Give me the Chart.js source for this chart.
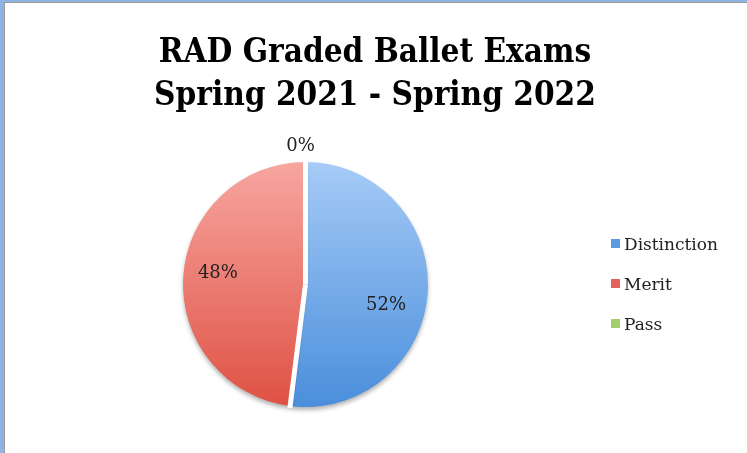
<!DOCTYPE html>
<html>
<head>
<meta charset="utf-8">
<script src="https://cdn.jsdelivr.net/npm/chart.js@4"></script>
<style>
  html, body { margin: 0; padding: 0; background: #fff; }
  #wrap { position: relative; width: 747px; height: 453px; }
</style>
</head>
<body>
<div id="wrap"><canvas id="myChart" width="747" height="453"></canvas></div>
<script>
// chart data
const categories = ['Distinction', 'Merit', 'Pass'];
const percents = [52, 48, 0];
const titleLines = ['RAD Graded Ballet Exams', 'Spring 2021 - Spring 2022'];

// top/bottom colours for the shaded slices, and legend squares
const topColors = ['#a6cbf7', '#f7a6a0', '#c2e08e'];
const bottomColors = ['#4a8edb', '#df5144', '#8fbf4f'];
const keyColors = ['#5c9be2', '#e4625a', '#a5cf6a'];
// small label nudges (x, y) to sit where the original put them
const labelNudge = [[-5, 15], [-2, -6], [-5, 0]];

const serif = '"DejaVu Serif", serif';

function shade(context) {
  const chart = context.chart;
  const area = chart.chartArea;
  if (!area) return keyColors[context.dataIndex];
  const g = chart.ctx.createLinearGradient(0, area.top, 0, area.bottom);
  g.addColorStop(0, topColors[context.dataIndex]);
  g.addColorStop(1, bottomColors[context.dataIndex]);
  return g;
}

// frame + title + legend + percent labels
const decor = {
  id: 'decor',
  beforeDraw(chart) {
    const ctx = chart.ctx;
    ctx.save();
    ctx.fillStyle = '#fff';
    ctx.fillRect(0, 0, chart.width, chart.height);
    ctx.fillStyle = '#8fb4e3';
    ctx.fillRect(0, 0, chart.width, 2);
    ctx.fillRect(0, 0, 4, chart.height);
    ctx.fillStyle = '#9a9a9a';
    ctx.fillRect(4, 2, chart.width - 4, 1);
    ctx.fillRect(4, 2, 1, chart.height - 2);

    ctx.fillStyle = '#000';
    ctx.textAlign = 'center';
    ctx.textBaseline = 'alphabetic';
    ctx.font = 'bold 33px "DejaVu Serif Condensed", ' + serif;
    ctx.fillText(titleLines[0], 375, 62);
    ctx.fillText(titleLines[1], 375, 105);
    ctx.restore();
  },
  beforeDatasetsDraw(chart) {
    const ctx = chart.ctx;
    ctx.save();
    ctx.shadowColor = 'rgba(0,0,0,0.3)';
    ctx.shadowBlur = 4;
    ctx.shadowOffsetY = 3;
  },
  afterDatasetsDraw(chart) {
    const ctx = chart.ctx;
    ctx.restore();
    ctx.save();
    const meta = chart.getDatasetMeta(0);

    // white gaps between the slices
    ctx.strokeStyle = '#fff';
    ctx.lineWidth = 5;
    meta.data.forEach((arc, i) => {
      if (percents[i] === 0) return;
      const p = arc.getProps(['x', 'y', 'startAngle', 'outerRadius'], true);
      ctx.beginPath();
      ctx.moveTo(p.x, p.y);
      ctx.lineTo(p.x + Math.cos(p.startAngle) * (p.outerRadius + 2),
                 p.y + Math.sin(p.startAngle) * (p.outerRadius + 2));
      ctx.stroke();
    });

    ctx.fillStyle = '#222';
    ctx.font = '18px ' + serif;
    ctx.textAlign = 'center';
    ctx.textBaseline = 'middle';
    meta.data.forEach((arc, i) => {
      const p = arc.getProps(['x', 'y', 'startAngle', 'endAngle', 'outerRadius'], true);
      const mid = (p.startAngle + p.endAngle) / 2;
      const r = percents[i] === 0 ? p.outerRadius + 16 : p.outerRadius * 0.7;
      ctx.fillText(percents[i] + '%',
        p.x + Math.cos(mid) * r + labelNudge[i][0],
        p.y + Math.sin(mid) * r + labelNudge[i][1]);
    });

    // legend
    ctx.textAlign = 'left';
    ctx.font = '17px ' + serif;
    categories.forEach((c, i) => {
      const y = 246 + i * 40;
      ctx.fillStyle = keyColors[i];
      ctx.fillRect(611, y - 7, 9, 9);
      ctx.fillStyle = '#222';
      ctx.fillText(c, 624, y);
    });
    ctx.restore();
  }
};

new Chart(document.getElementById('myChart'), {
  type: 'pie',
  data: {
    labels: categories,
    datasets: [{
      data: percents,
      backgroundColor: shade,
      borderWidth: 0
    }]
  },
  options: {
    responsive: false,
    animation: false,
    layout: { padding: { left: 183, right: 319, top: 162, bottom: 46 } },
    plugins: {
      legend: { display: false },
      title: { display: false },
      tooltip: { enabled: false }
    }
  },
  plugins: [decor]
});
</script>
</body>
</html>
